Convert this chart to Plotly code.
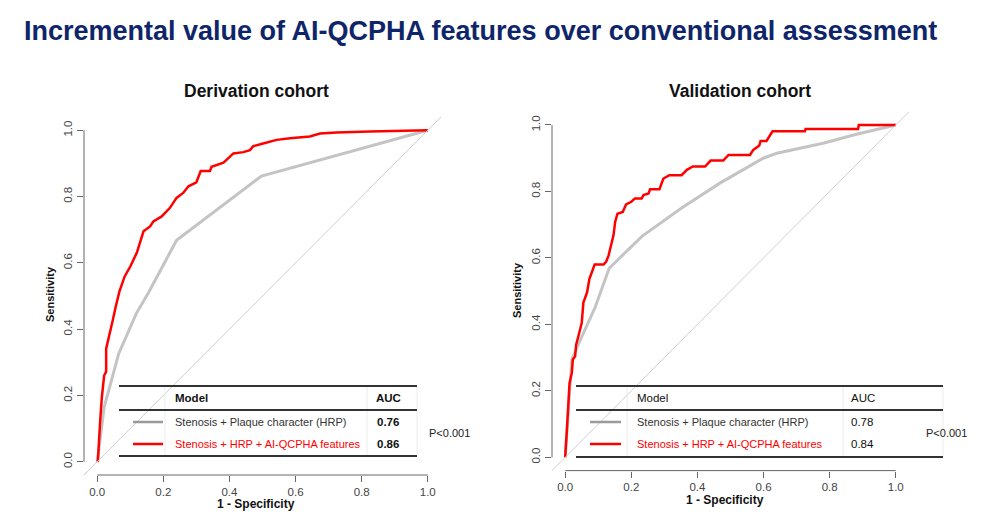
import plotly.graph_objects as go

# page body has an 8px margin, so the figure is made 16px smaller and all pixel positions shifted
W, H = 965, 504
OFF = 8

# ---------------- data ----------------
deriv_ref_fpr = [0.0, 0.021, 0.065, 0.118, 0.155, 0.24, 0.497, 1.0]
deriv_ref_tpr = [0.0, 0.165, 0.326, 0.447, 0.510, 0.668, 0.862, 1.0]

deriv_new_fpr = [0.0, 0.002, 0.009, 0.014, 0.021, 0.027, 0.027, 0.037, 0.047, 0.056, 0.067,
                 0.083, 0.10, 0.12, 0.135, 0.14, 0.16, 0.17, 0.195, 0.22, 0.24, 0.26,
                 0.276, 0.30, 0.313, 0.341, 0.346, 0.382, 0.412, 0.442, 0.462, 0.472,
                 0.502, 0.543, 0.583, 0.643, 0.674, 0.724, 0.825, 0.946, 0.956, 1.0]
deriv_new_tpr = [0.0, 0.003, 0.124, 0.195, 0.26, 0.272, 0.341, 0.389, 0.427, 0.468, 0.513,
                 0.559, 0.589, 0.631, 0.675, 0.695, 0.71, 0.725, 0.74, 0.766, 0.796, 0.811,
                 0.831, 0.843, 0.877, 0.877, 0.89, 0.902, 0.930, 0.934, 0.94, 0.952,
                 0.96, 0.971, 0.976, 0.981, 0.99, 0.993, 0.996, 0.998, 1.0, 1.0]

valid_ref_fpr = [0.0, 0.02, 0.035, 0.09, 0.133, 0.232, 0.352, 0.468, 0.599, 0.64, 0.78, 0.881, 1.0]
valid_ref_tpr = [0.0, 0.294, 0.33, 0.45, 0.569, 0.665, 0.75, 0.825, 0.9, 0.915, 0.945, 0.972, 1.0]

valid_new_fpr = [0.0, 0.0, 0.005, 0.01, 0.013, 0.02, 0.023, 0.03, 0.033, 0.04, 0.05, 0.055,
                 0.066, 0.073, 0.08, 0.089, 0.116, 0.124, 0.131, 0.138, 0.146, 0.151, 0.158,
                 0.174, 0.184, 0.2, 0.211, 0.231, 0.237, 0.252, 0.257, 0.285, 0.292, 0.297,
                 0.315, 0.352, 0.368, 0.386, 0.423, 0.44, 0.478, 0.494, 0.559, 0.569, 0.587,
                 0.591, 0.609, 0.619, 0.627, 0.725, 0.727, 0.886, 0.888, 1.0]
valid_new_tpr = [0.0, 0.003, 0.082, 0.152, 0.223, 0.254, 0.294, 0.304, 0.339, 0.365, 0.405, 0.466,
                 0.496, 0.536, 0.557, 0.58, 0.58, 0.589, 0.607, 0.637, 0.668, 0.708, 0.733,
                 0.738, 0.761, 0.769, 0.779, 0.779, 0.789, 0.794, 0.807, 0.807, 0.824, 0.839,
                 0.849, 0.849, 0.865, 0.875, 0.875, 0.893, 0.893, 0.91, 0.91, 0.925, 0.938,
                 0.952, 0.952, 0.969, 0.981, 0.981, 0.988, 0.988, 1.0, 1.0]

tick_vals = [0.0, 0.2, 0.4, 0.6, 0.8, 1.0]
tick_text = ["0.0", "0.2", "0.4", "0.6", "0.8", "1.0"]

model_names = ["Stenosis + Plaque character (HRP)", "Stenosis + HRP + AI-QCPHA features"]
deriv_auc = ["0.76", "0.86"]
valid_auc = ["0.78", "0.84"]
p_value = "P<0.001"

main_title = "Incremental value of AI-QCPHA features over conventional assessment"
panel_titles = ["Derivation cohort", "Validation cohort"]

# ---------------- styling ----------------
FONT = "Liberation Sans, Arial, sans-serif"
GRAY = "#c4c4c4"
RED = "#ff0000"
AXC = "#666666"


def px(x):
    return (x - OFF) / W


def py(y):
    return 1 - (y - OFF) / H


fig = go.Figure()

# panel pixel boxes (left, right, top, bottom) in screen pixels
panels = [
    dict(box=(84, 441, 117, 475), ref=(deriv_ref_fpr, deriv_ref_tpr), new=(deriv_new_fpr, deriv_new_tpr), ax=""),
    dict(box=(552, 909, 111.7, 470.6), ref=(valid_ref_fpr, valid_ref_tpr), new=(valid_new_fpr, valid_new_tpr), ax="2"),
]

for p in panels:
    xa, ya = "x" + p["ax"], "y" + p["ax"]
    fig.add_trace(go.Scatter(x=p["ref"][0], y=p["ref"][1], mode="lines",
                             line=dict(color=GRAY, width=3), xaxis=xa, yaxis=ya, showlegend=False,
                             hoverinfo="skip"))
    fig.add_trace(go.Scatter(x=p["new"][0], y=p["new"][1], mode="lines",
                             line=dict(color=RED, width=2.5), xaxis=xa, yaxis=ya, showlegend=False,
                             hoverinfo="skip"))

axis_common = dict(range=[-0.04, 1.04], showgrid=False, zeroline=False, showline=False,
                   ticks="outside", ticklen=6, tickwidth=1, tickcolor=AXC,
                   tickvals=tick_vals, ticktext=tick_text,
                   tickfont=dict(family=FONT, size=11.5, color="#444444"))

lay = {}
for p in panels:
    l, r, t, b = p["box"]
    sx = "xaxis" + p["ax"]
    sy = "yaxis" + p["ax"]
    lay[sx] = dict(axis_common, domain=[px(l), px(r)], anchor="y" + p["ax"], ticklabelstandoff=0)
    lay[sy] = dict(axis_common, domain=[py(b), py(t)], anchor="x" + p["ax"], tickangle=-90,
                   ticklabelstandoff=0)
    xa, ya = "x" + p["ax"], "y" + p["ax"]
    # diagonal reference
    fig.add_shape(type="line", xref=xa + " domain", yref=ya + " domain", x0=0, y0=0, x1=1, y1=1,
                  line=dict(color="#cfcfcf", width=1))
    # R-style axis lines spanning first to last tick
    fig.add_shape(type="line", xref=xa, yref=ya + " domain", x0=tick_vals[0], x1=tick_vals[-1],
                  y0=0, y1=0, line=dict(color=AXC, width=1))
    fig.add_shape(type="line", xref=xa + " domain", yref=ya, x0=0, x1=0,
                  y0=tick_vals[0], y1=tick_vals[-1], line=dict(color=AXC, width=1))

fig.update_layout(**lay)

ann = []
# main title
ann.append(dict(text="<b>" + main_title + "</b>", x=px(22), y=py(31), xanchor="left", yanchor="middle",
                font=dict(family=FONT, size=27, color="#0e2669")))
# panel titles
for cx, t in zip([257, 740], panel_titles):
    ann.append(dict(text="<b>" + t + "</b>", x=px(cx), y=py(91), xanchor="center", yanchor="middle",
                    font=dict(family=FONT, size=17.5, color="#111111")))
# axis titles
for cx, cy in [(256, 503.5), (725, 500)]:
    ann.append(dict(text="<b>1 - Specificity</b>", x=px(cx), y=py(cy), xanchor="center", yanchor="middle",
                    font=dict(family=FONT, size=12, color="#111111")))
for cx, cy in [(50, 294), (517, 290)]:
    ann.append(dict(text="<b>Sensitivity</b>", x=px(cx), y=py(cy), xanchor="center", yanchor="middle",
                    textangle=-90, font=dict(family=FONT, size=11, color="#111111")))

shapes = []
tables = [
    dict(x0=119, x1=417, ys=(386, 410, 456), seg=(133, 163), tx=173, auc_x=388, auc_anchor="center",
         p_x=427, bold=True, aucs=deriv_auc, vlines=(165, 367, 417)),
    dict(x0=576, x1=943, ys=(386, 410, 457), seg=(590, 621), tx=635, auc_x=849, auc_anchor="left",
         p_x=924, bold=False, aucs=valid_auc, vlines=(627, 843, 943)),
]
for tb in tables:
    top, mid, bot = tb["ys"]
    for vx in tb["vlines"]:
        shapes.append(dict(type="line", xref="paper", yref="paper", x0=px(vx), x1=px(vx), y0=py(top), y1=py(bot),
                           line=dict(color="#ececec", width=1)))
    for yy in tb["ys"]:
        shapes.append(dict(type="line", xref="paper", yref="paper", x0=px(tb["x0"]), x1=px(tb["x1"]),
                           y0=py(yy), y1=py(yy), line=dict(color="#333333", width=2)))
    rows_y = [422, 444]
    for yy, col in zip(rows_y, ["#9a9a9a", RED]):
        shapes.append(dict(type="line", xref="paper", yref="paper", x0=px(tb["seg"][0]), x1=px(tb["seg"][1]),
                           y0=py(yy), y1=py(yy), line=dict(color=col, width=2.5)))
    b0, b1 = ("<b>", "</b>") if tb["bold"] else ("", "")
    hdr_y = 398
    ann.append(dict(text=b0 + "Model" + b1, x=px(tb["tx"]), y=py(hdr_y), xanchor="left", yanchor="middle",
                    font=dict(family=FONT, size=11.5, color="#111111")))
    ann.append(dict(text=b0 + "AUC" + b1, x=px(tb["auc_x"]), y=py(hdr_y), xanchor=tb["auc_anchor"],
                    yanchor="middle", font=dict(family=FONT, size=11.5, color="#111111")))
    for yy, name, auc, col in zip(rows_y, model_names, tb["aucs"], ["#333333", RED]):
        ann.append(dict(text=name, x=px(tb["tx"]), y=py(yy), xanchor="left", yanchor="middle",
                        font=dict(family=FONT, size=11, color=col)))
        ann.append(dict(text=b0 + auc + b1, x=px(tb["auc_x"]), y=py(yy), xanchor=tb["auc_anchor"],
                        yanchor="middle", font=dict(family=FONT, size=11.5, color="#111111")))
    ann.append(dict(text=p_value, x=px(tb["p_x"]), y=py(433), xanchor="left", yanchor="middle",
                    font=dict(family=FONT, size=11, color="#222222")))

for a in ann:
    a.update(xref="paper", yref="paper", showarrow=False)

fig.update_layout(width=W, height=H, margin=dict(l=0, r=0, t=0, b=0),
                  paper_bgcolor="white", plot_bgcolor="white",
                  annotations=ann, shapes=list(fig.layout.shapes) + shapes)

fig.write_html("out.html")
